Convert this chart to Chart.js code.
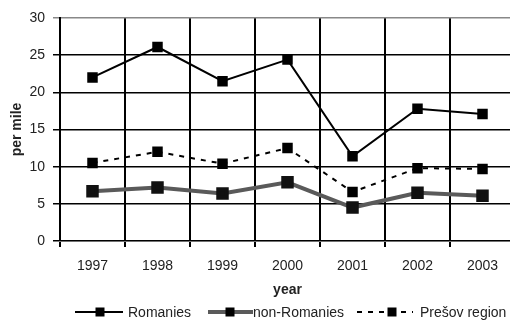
<!DOCTYPE html>
<html>
<head>
<meta charset="utf-8">
<script src="https://cdn.jsdelivr.net/npm/chart.js@4/dist/chart.umd.min.js"></script>
<style>
  html, body { margin: 0; padding: 0; background: #fff; overflow: hidden; }
  #wrap { position: relative; width: 516px; height: 324px; }
  canvas { display: block; }
  .leg { position: absolute; top: 304px; height: 16px; line-height: 16px;
         font: 14px Arial, "Liberation Sans", sans-serif; color: #222; white-space: nowrap; }
  .leg svg { position: absolute; top: 2px; }
</style>
</head>
<body>
<div id="wrap">
  <canvas id="chart" width="516" height="324"></canvas>
  <div id="legend"></div>
</div>
<script>
// data
const years        = ['1997', '1998', '1999', '2000', '2001', '2002', '2003'];
const romanies     = [22.0, 26.1, 21.5, 24.4, 11.4, 17.8, 17.1];
const nonRomanies  = [6.7, 7.2, 6.4, 7.9, 4.5, 6.5, 6.1];
const presovRegion = [10.5, 12.0, 10.4, 12.5, 6.6, 9.8, 9.7];
const seriesNames  = ['Romanies', 'non-Romanies', 'Prešov region'];

const FONT = 'Arial, "Liberation Sans", sans-serif';
const TEXT = '#222';

// html legend: line sample with a square marker, then the name
const legendItems = [
  { left: 75,  w: 48, mx: 25, tx: 128, color: '#000',    width: 2, dash: '' },
  { left: 208, w: 45, mx: 22, tx: 253, color: '#5a5a5a', width: 4, dash: '' },
  { left: 357, w: 56, mx: 35, tx: 420, color: '#000',    width: 2, dash: '5,6' },
];
document.getElementById('legend').innerHTML = legendItems.map((it, i) => `
  <div class="leg" style="left:${it.left}px;width:${it.w}px;">
    <svg width="${it.w}" height="12">
      <line x1="0" y1="6" x2="${it.w}" y2="6" stroke="${it.color}" stroke-width="${it.width}" stroke-dasharray="${it.dash}"/>
      <rect x="${it.mx - 4.5}" y="1.5" width="9" height="9" fill="#000"/>
    </svg>
  </div>
  <div class="leg" style="left:${it.tx}px;">${seriesNames[i]}</div>`).join('');

new Chart(document.getElementById('chart'), {
  type: 'line',
  data: {
    labels: years,
    datasets: [
      {
        label: seriesNames[0],
        data: romanies,
        borderColor: '#000',
        borderWidth: 2,
        pointStyle: 'rect',
        pointRadius: 6,
        pointBackgroundColor: '#000',
        pointBorderColor: '#000',
      },
      {
        label: seriesNames[1],
        data: nonRomanies,
        borderColor: '#5a5a5a',
        borderWidth: 4,
        pointStyle: 'rect',
        pointRadius: 6,
        pointBackgroundColor: '#111',
        pointBorderColor: '#111',
      },
      {
        label: seriesNames[2],
        data: presovRegion,
        borderColor: '#000',
        borderWidth: 2,
        borderDash: [5, 6],
        pointStyle: 'rect',
        pointRadius: 6,
        pointBackgroundColor: '#000',
        pointBorderColor: '#000',
      }
    ]
  },
  options: {
    responsive: false,
    animation: false,
    layout: { autoPadding: false, padding: { top: 18, right: 1, bottom: 24, left: 0 } },
    plugins: { legend: { display: false }, tooltip: { enabled: false } },
    scales: {
      x: {
        offset: true,
        grid: { offset: true, color: '#000', lineWidth: 2, tickLength: 6 },
        ticks: { color: TEXT, font: { family: FONT, size: 14 }, padding: 11, maxRotation: 0 },
        title: { display: true, text: 'year', color: TEXT, font: { family: FONT, size: 14, weight: 'bold' }, padding: { top: 0, bottom: 1 } },
        afterFit: s => { s.height = 59; }
      },
      y: {
        min: 0, max: 30,
        grid: { color: ctx => ctx.tick && ctx.tick.value === 30 ? '#888' : '#000', lineWidth: 1.5, tickLength: 7 },
        border: { color: '#000', width: 2 },
        ticks: { stepSize: 5, color: TEXT, font: { family: FONT, size: 14 }, padding: 8 },
        title: { display: true, text: 'per mile', color: TEXT, font: { family: FONT, size: 14, weight: 'bold' }, padding: { top: 9, bottom: 0 } },
        afterFit: s => { s.width = 60; }
      }
    }
  }
});
</script>
</body>
</html>
